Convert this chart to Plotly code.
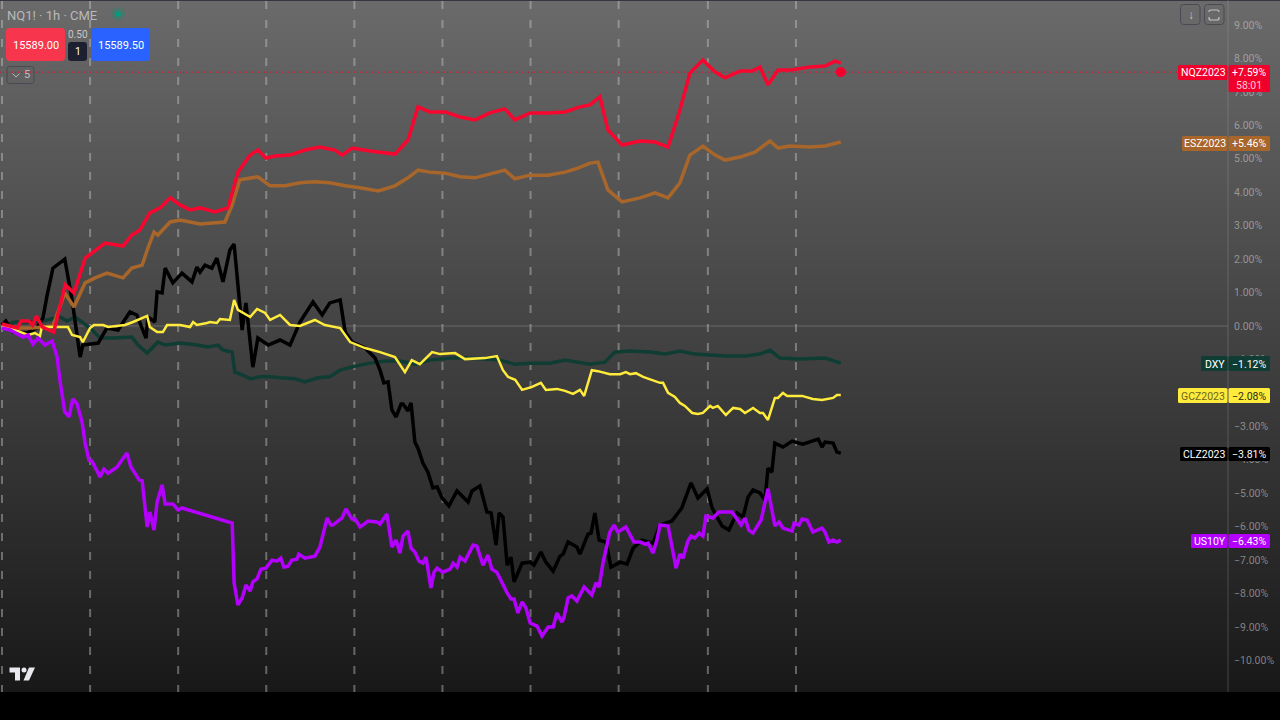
import plotly.graph_objects as go

# ---- data: hours since start of the comparison, % change ----
NQ_H = [0,4,5,7,8,9,10.5,13.5,16.5,18.8,21.7,24.3,26.9,31.6,33.9,36,38.6,41.3,43.9,46.5,49.1,51.7,55.6,59,61.6,64.8,66.8,68.9,71.3,75.2,79.1,83,86.9,88.8,91.4,96.1,102.6,106,108.6,111.7,115.7,119.6,123.5,127.4,131.3,133.9,137.9,142.6,147,150.9,153.5,156.1,158.2,161.9,166.6,170.5,173.9,177,179.6,183,186.2,188.8,192.7,195.8,197.9,200,202.6,205.7,211,214.9,217.5,219]
NQ_PCT = [.06,-.06,.15,.15,.03,.30,-.03,-.18,1.23,.99,2.03,2.27,2.48,2.39,2.72,2.87,3.38,3.53,3.83,3.62,3.47,3.53,3.41,3.53,4.60,5.11,5.26,5.02,5.08,5.11,5.26,5.35,5.26,5.11,5.32,5.23,5.14,5.56,6.55,6.40,6.40,6.25,6.16,6.37,6.49,6.16,6.37,6.37,6.40,6.55,6.61,6.85,5.86,5.41,5.53,5.50,5.35,6.46,7.56,7.95,7.59,7.42,7.62,7.62,7.74,7.21,7.65,7.65,7.74,7.77,7.92,7.86]

ES_H = [0,3.9,7.8,13.3,16.4,18.8,21.7,24.3,27.4,31.6,33.9,36.6,38.1,39.7,40.7,42,43.9,46.5,51.7,58.2,60.1,62.1,64.8,66.8,70,73.9,77.8,81.7,85.6,89.6,93.5,98.2,102.6,106,108.6,111.7,115.7,119.6,123.5,127.4,131.3,133.9,137.9,142.6,147,150.4,153.5,155.6,158.2,161.9,166.6,170.5,173.9,177,179.6,183,186.2,188.8,192.7,196.6,200.5,202.6,205.7,211,214.9,219]
ES_PCT = [.03,-.06,-.06,0,.99,.57,1.29,1.44,1.58,1.44,1.73,1.82,2.33,2.81,2.72,2.87,3.11,3.17,3.05,3.11,3.62,4.37,4.43,4.46,4.19,4.19,4.28,4.31,4.28,4.19,4.13,4.04,4.19,4.43,4.66,4.60,4.57,4.46,4.43,4.54,4.66,4.40,4.51,4.51,4.60,4.72,4.87,4.90,4.07,3.71,3.83,3.98,3.83,4.28,5.11,5.38,5.11,4.96,5.05,5.20,5.53,5.32,5.38,5.35,5.38,5.50]

CL_H = [0,1,2.9,6.5,9.1,10.7,11.7,13.3,16.4,18.3,20.4,21.1,25.1,27.4,30.3,33.4,35.2,37.6,38.1,39.9,40.5,41.8,42.6,44.6,47,49.6,50.9,51.7,53,54.8,56.1,57.7,59.5,60.6,62.7,63.7,65.5,66.8,69.5,72.6,75.2,77.8,81.2,83.6,85.6,88.3,89.6,91.4,94.8,97.4,98.7,99.7,100.8,101.8,102.9,104.2,104.7,106,106.8,107.8,108.6,109.9,111.2,112.5,113.6,114.9,116.7,118.8,121.7,122.7,124.8,126.6,127.7,129,129.8,130.8,131.9,132.9,133.7,135.8,137.9,138.9,140.7,142,143.9,145.7,146.5,147.8,150.1,150.9,153,153.8,154.8,155.9,157.7,159,161.4,163.2,164.8,167.1,170,171.8,174.9,177.5,179.9,181.7,184.1,185.4,188,189.8,191.9,193.5,194.8,196.1,197.9,199.2,200,201,201.8,203.9,206.3,209.1,213.1,214.1,214.9,217,218,219]
CL_PCT = [.03,.15,-.18,-.21,-.06,.24,.87,1.73,2.00,.78,-.93,-.57,-.51,-.06,-.12,.42,.33,-.36,.27,.12,1.02,.99,1.73,1.29,1.58,1.32,1.76,1.61,1.82,1.73,2.03,1.32,2.27,2.45,-.12,.69,-1.23,-.36,-.57,-.42,-.57,.12,.72,.33,.69,.78,-.18,-.48,-.66,-.96,-1.32,-1.70,-1.67,-2.51,-2.72,-2.33,-2.33,-2.54,-2.30,-3.47,-3.65,-4.10,-4.37,-4.84,-4.81,-5.14,-5.38,-4.93,-5.26,-4.93,-4.78,-5.56,-5.59,-6.55,-5.59,-5.71,-7.15,-6.91,-7.65,-7.09,-7.06,-7.15,-6.76,-7.06,-7.33,-6.88,-6.82,-6.46,-6.61,-6.82,-6.22,-6.19,-5.59,-6.40,-6.46,-7.21,-7.06,-7.12,-6.64,-6.40,-6.49,-5.95,-5.83,-5.44,-4.69,-5.14,-4.87,-5.44,-5.98,-6.10,-5.59,-5.71,-5.11,-4.90,-4.99,-5.20,-4.25,-4.37,-3.50,-3.62,-3.44,-3.53,-3.38,-3.62,-3.47,-3.50,-3.77,-3.80]

US10Y_H = [0,2.1,5.5,6.8,8.1,9.4,11.2,13.1,14.4,15.1,16.4,17.5,18.5,19.6,20.9,21.7,22.7,23.5,25.6,26.6,27.7,28.7,30,32.6,33.7,34.7,35.8,36.6,37.9,38.6,39.7,40.5,41.8,42.6,44.6,46,47,60.1,60.6,61.6,62.7,63.7,64.8,65.5,66.6,67.6,68.9,70.5,71.8,72.8,73.6,74.7,75.7,77,77.5,79.1,81.7,83,84.9,85.9,86.4,88.8,89.8,91.4,92.2,93.5,95.6,97.9,98.7,100.5,101.8,102.9,103.9,104.7,106,106.8,107.8,108.9,109.9,110.7,112,112.8,113.6,115.1,117,117.8,118.8,119.6,120.9,123,124,125.6,126.9,127.9,129.2,131.9,132.9,133.7,134.7,135.8,136.8,137.9,139.7,141,142.6,143.9,144.9,146.2,146.7,147.8,148.8,150.1,152,154,155.1,155.9,156.9,158.7,159.8,160.8,162.9,165,166.6,167.9,168.7,170,171,171.8,173.9,176,177,177.8,179.1,179.9,180.9,182,183,183.8,185.6,187.2,190.6,193,194,195,196.1,198.2,200,201.8,202.9,203.9,206.3,206.8,208.1,208.9,210.2,211.7,214.1,214.9,215.9,217,218,219]
US10Y_PCT = [-.06,-.12,-.33,-.27,-.54,-.36,-.57,-.45,-.93,-1.61,-2.57,-2.72,-2.18,-2.33,-2.87,-3.50,-4.01,-4.04,-4.51,-4.28,-4.40,-4.31,-4.22,-3.80,-4.22,-4.40,-4.60,-4.63,-6.01,-5.56,-6.10,-5.26,-4.75,-5.32,-5.32,-5.50,-5.44,-5.89,-7.68,-8.34,-8.13,-7.74,-7.92,-7.65,-7.56,-7.27,-7.24,-7.00,-7.03,-6.94,-7.21,-7.18,-7.00,-6.97,-6.82,-6.94,-6.88,-6.61,-5.74,-5.95,-5.95,-5.74,-5.47,-5.77,-5.77,-6.01,-5.83,-5.86,-5.92,-5.62,-6.61,-6.40,-6.79,-6.28,-6.13,-6.64,-6.76,-7.03,-7.09,-6.91,-7.83,-7.36,-7.24,-7.36,-7.27,-7.09,-7.21,-6.91,-7.03,-6.55,-6.58,-7.15,-6.85,-7.27,-7.36,-7.98,-8.16,-8.16,-8.58,-8.25,-8.43,-8.88,-8.97,-9.27,-9.00,-9.00,-8.58,-8.85,-8.73,-8.13,-8.07,-8.22,-7.80,-8.04,-7.68,-7.80,-7.09,-6.16,-5.95,-6.16,-6.01,-6.46,-6.46,-6.52,-6.49,-6.79,-6.40,-5.95,-5.98,-7.24,-6.82,-6.94,-6.43,-6.28,-6.34,-6.19,-6.28,-5.68,-5.74,-5.56,-5.56,-5.95,-5.74,-6.10,-6.19,-5.80,-4.87,-5.98,-5.86,-6.04,-6.13,-5.89,-5.95,-5.77,-5.80,-6.16,-6.04,-6.16,-6.46,-6.40,-6.46,-6.40]

GC_H = [0,3.4,6.8,8.6,9.9,10.4,13.3,17.2,18.3,20.4,21.1,23,24,26.4,27.7,32.1,34.2,37.9,38.6,40.5,42,43.1,46.5,49.1,49.9,50.9,53.5,54.3,56.1,56.9,59.5,60.6,61.6,64.8,66.6,68.7,70,72.6,75.2,77.8,81.7,84.3,88.3,90.9,94.8,98.7,102.6,105.2,107,109.1,112.3,114.4,118.3,120.9,126.1,129.2,130.8,132.1,134,135.8,138.4,140.7,142,144.9,147,149.1,150.9,152,154,155.6,158.7,161.4,162.9,164,165.5,167.4,171.8,172.6,173.9,175.7,177,178.3,180.2,181.7,183,184.9,185.6,186.9,189,190.9,192.7,194,196.1,197.9,198.7,200,201.8,202.6,203.9,205,208.9,211.7,214.1,216.2,217,218,219]
GC_PCT = [0,-.12,-.27,-.21,-.30,-.03,-.03,-.03,-.27,-.33,-.48,-.06,.03,.03,-.03,.03,.12,.30,-.03,-.18,-.18,.03,.03,-.03,.12,.03,.09,.12,.09,.21,.18,.78,.48,.27,.51,.39,.18,.33,.03,0,.18,.03,-.06,-.48,-.66,-.78,-.93,-1.38,-1.02,-1.14,-.78,-.84,-.81,-.99,-.96,-.90,-1.32,-1.52,-1.61,-1.91,-1.82,-1.70,-1.91,-1.88,-1.94,-2.03,-1.91,-2.09,-1.32,-1.35,-1.44,-1.44,-1.38,-1.44,-1.41,-1.52,-1.70,-1.70,-2.00,-2.12,-2.30,-2.39,-2.60,-2.63,-2.60,-2.39,-2.45,-2.39,-2.66,-2.45,-2.48,-2.60,-2.45,-2.60,-2.60,-2.81,-2.15,-2.15,-2.00,-2.09,-2.09,-2.18,-2.21,-2.15,-2.15,-2.06,-2.06]

DXY_H = [0,3.4,7.3,10.7,15.1,17,19.1,20.9,23,25.6,29,33.9,35.5,37.9,40.7,42.6,46.5,50.9,53.8,56.4,57.7,60.1,60.8,62.9,64.8,67.4,70,72.6,76.5,79.1,82.5,85.6,88.3,92.2,96.1,100,103.9,107.8,111.7,117,122.2,126.1,130,133.9,137.9,143.1,147,153.5,157.4,160,164,169.2,173.1,177,180.9,184.9,188.8,194,197.9,200.5,203.1,208.4,214.9,219]
DXY_PCT = [0,.12,.12,.15,.27,.15,.27,.12,-.06,-.36,-.36,-.33,-.57,-.81,-.48,-.57,-.51,-.57,-.63,-.57,-.72,-.78,-1.38,-1.47,-1.58,-1.52,-1.52,-1.55,-1.58,-1.67,-1.55,-1.52,-1.32,-1.20,-1.11,-1.05,-1.05,-1.14,-1.02,-.96,-.96,-.99,-1.02,-1.14,-1.11,-1.11,-1.02,-1.14,-1.08,-.78,-.75,-.78,-.84,-.75,-.84,-.87,-.90,-.90,-.84,-.72,-.96,-.99,-.96,-1.11]

DAY_BREAKS_H = [0,23,46,69,92,115,138,161,184.3,207.3]
Y_TICKS = [9,8,7,6,5,4,3,2,1,0,-1,-2,-3,-4,-5,-6,-7,-8,-9,-10]
LAST_PRICE_PCT = 7.59
LAST_H = 219

LINE_STYLES = [
    ("DXY", DXY_H, DXY_PCT, "#0f3d33", 3.5),
    ("CLZ2023", CL_H, CL_PCT, "#000000", 3.5),
    ("ESZ2023", ES_H, ES_PCT, "#a8662a", 3.5),
    ("GCZ2023", GC_H, GC_PCT, "#ffeb3b", 2.5),
    ("US10Y", US10Y_H, US10Y_PCT, "#b400ff", 3.5),
    ("NQZ2023", NQ_H, NQ_PCT, "#f7072f", 3.5),
]

# name, value text, box left, box top, box bottom, colour, name-text colour, value-text colour
BADGES = [
    ("NQZ2023", "+7.59%", 1178, 65, 80, "#f2002c", "#ffffff", "#ffffff"),
    ("ESZ2023", "+5.46%", 1182, 136, 151, "#a8662a", "#ffffff", "#ffffff"),
    ("DXY", "\u22121.12%", 1201, 356, 371, "#0f3d33", "#ffffff", "#ffffff"),
    ("GCZ2023", "\u22122.08%", 1178, 388, 403, "#ffeb3b", "#6b6420", "#2b2b10"),
    ("CLZ2023", "\u22123.81%", 1180, 447, 461, "#000000", "#ffffff", "#ffffff"),
    ("US10Y", "\u22126.43%", 1191, 534, 548, "#b400ff", "#ffffff", "#ffffff"),
]

W, H = 1280, 720
AXIS_X = 1228
BOTTOM = 692
PX_PER_PCT = 33.45
PX_PER_H = 3.83
ZERO_Y = 326
FONT = "Roboto"

def X(p): return p / W
def Y(p): return 1 - p / H

def round_rect(x0, y0, x1, y1, r, fill, line=None, lw=1):
    px, py = X, Y
    path = (f"M {px(x0+r)} {py(y0)} L {px(x1-r)} {py(y0)} Q {px(x1)} {py(y0)} {px(x1)} {py(y0+r)} "
            f"L {px(x1)} {py(y1-r)} Q {px(x1)} {py(y1)} {px(x1-r)} {py(y1)} "
            f"L {px(x0+r)} {py(y1)} Q {px(x0)} {py(y1)} {px(x0)} {py(y1-r)} "
            f"L {px(x0)} {py(y0+r)} Q {px(x0)} {py(y0)} {px(x0+r)} {py(y0)} Z")
    return dict(type="path", xref="paper", yref="paper", path=path, fillcolor=fill,
                line=dict(color=line or "rgba(0,0,0,0)", width=lw if line else 0), layer="above")

def rect(x0, y0, x1, y1, fill, layer="below"):
    return dict(type="rect", xref="paper", yref="paper", x0=X(x0), x1=X(x1), y0=Y(y1), y1=Y(y0),
                fillcolor=fill, line=dict(width=0), layer=layer)

def poly(points, fill):
    d = "M " + " L ".join(f"{X(a)} {Y(b)}" for a, b in points) + " Z"
    return dict(type="path", xref="paper", yref="paper", path=d, fillcolor=fill, line=dict(width=0), layer="above")

def text(x, y, s, size=11, color="#ffffff", anchor="center", weight=None):
    return dict(xref="paper", yref="paper", x=X(x), y=Y(y), text=s, showarrow=False, xanchor=anchor,
                yanchor="middle", font=dict(family=FONT, size=size, color=color, weight=weight or 400),
                borderpad=0, borderwidth=0)

shapes, annots = [], []

# background gradient
TOP_GREY, BOT_GREY = 106, 24
STEP = 4
for y in range(0, BOTTOM, STEP):
    g = round(TOP_GREY + (BOT_GREY - TOP_GREY) * y / BOTTOM)
    shapes.append(rect(0, y, W, min(y + STEP, BOTTOM), f"rgb({g},{g},{g})"))
shapes.append(rect(0, BOTTOM, W, H, "#000000"))
shapes.append(rect(0, 0, W, 1, "#34373e"))

# right axis line
shapes.append(rect(AXIS_X - 0.5, 0, AXIS_X + 0.5, BOTTOM, "rgba(170,170,170,0.3)"))

# day break dashed lines
for h in DAY_BREAKS_H:
    shapes.append(dict(type="line", xref="x", yref="paper", x0=h, x1=h, y0=Y(1), y1=Y(BOTTOM),
                       line=dict(color="rgba(205,205,205,0.42)", width=2, dash="8px,11px"), layer="below"))

# zero line and last-price line
shapes.append(dict(type="line", xref="paper", yref="y", x0=0, x1=X(AXIS_X), y0=0, y1=0,
                   line=dict(color="rgba(200,200,200,0.26)", width=1), layer="below"))
shapes.append(dict(type="line", xref="paper", yref="y", x0=0, x1=X(AXIS_X), y0=LAST_PRICE_PCT, y1=LAST_PRICE_PCT,
                   line=dict(color="#f2002c", width=1, dash="1px,2px"), layer="below"))

fig = go.Figure()
for name, hs, vals, color, width in LINE_STYLES:
    fig.add_trace(go.Scatter(x=hs, y=vals, mode="lines", name=name,
                             line=dict(color=color, width=width, shape="linear"), hoverinfo="skip"))
fig.add_trace(go.Scatter(x=[LAST_H], y=[LAST_PRICE_PCT], mode="markers", name="last",
                         marker=dict(color="#f2002c", size=10), hoverinfo="skip"))

# right-hand badges
for name, val, left, top, bot, col, ntc, vtc in BADGES:
    vbot = 92 if name == "NQZ2023" else bot
    shapes.append(round_rect(left, top, AXIS_X - 0.5, bot, 1.5, col))
    shapes.append(round_rect(AXIS_X + 0.5, top, 1270, vbot, 1.5, col))
    annots.append(text((left + AXIS_X) / 2, (top + bot) / 2 + 0.5, name, 10.5, ntc))
    annots.append(text(1249, (top + bot) / 2 + 0.5, val, 10.5, vtc))
annots.append(text(1249, 85, "58:01", 10.5, "#ffc9d2"))

# top-left order widget
annots.append(text(7, 15, "NQ1! \u00b7 1h \u00b7 CME", 13, "#b9b9b9", "left"))
shapes.append(dict(type="circle", xref="paper", yref="paper", x0=X(111), x1=X(125), y0=Y(21), y1=Y(7),
                   fillcolor="rgba(0,150,110,0.22)", line=dict(width=0), layer="above"))
shapes.append(dict(type="circle", xref="paper", yref="paper", x0=X(115), x1=X(121), y0=Y(17), y1=Y(11),
                   fillcolor="#089981", line=dict(width=0), layer="above"))
shapes.append(round_rect(6, 28, 65, 61, 4, "#f7364e"))
annots.append(text(35.5, 45, "15589.00", 11))
shapes.append(round_rect(91, 28, 150, 61, 4, "#2962ff"))
annots.append(text(120.5, 45, "15589.50", 11))
annots.append(text(77.5, 34, "0.50", 10, "#c8c8c8"))
shapes.append(round_rect(68, 42, 87, 61, 3, "#1c2030"))
annots.append(text(77.5, 51.5, "1", 10.5, "#ffffff"))
shapes.append(round_rect(7, 66.5, 34, 83.5, 2.5, "rgba(0,0,0,0)", "#4a4b52", 1))
shapes.append(dict(type="path", xref="paper", yref="paper", layer="above",
                   path=f"M {X(12.5)} {Y(73.5)} L {X(16)} {Y(77)} L {X(19.5)} {Y(73.5)}",
                   line=dict(color="#b5b5b5", width=1)))
annots.append(text(26.5, 75, "5", 11, "#bdbdbd"))

# top-right buttons
shapes.append(round_rect(1180.5, 4.5, 1200, 24.5, 3, "rgba(0,0,0,0)", "#4a4b52", 1))
shapes.append(round_rect(1204.5, 4.5, 1224, 24.5, 3, "rgba(0,0,0,0)", "#4a4b52", 1))
annots.append(text(1190.5, 14.5, "\u2193", 12, "#c4c4c4"))
shapes.append(dict(type="path", xref="paper", yref="paper", layer="above",
                   path=(f"M {X(1209)} {Y(12)} L {X(1209)} {Y(11)} Q {X(1209)} {Y(10)} {X(1211)} {Y(10)} L {X(1217)} {Y(10)} "
                         f"Q {X(1219)} {Y(10)} {X(1219)} {Y(12)} M {X(1209)} {Y(17)} L {X(1209)} {Y(18)} Q {X(1209)} {Y(20)} {X(1211)} {Y(20)} "
                         f"L {X(1217)} {Y(20)} Q {X(1219)} {Y(20)} {X(1219)} {Y(18)} L {X(1219)} {Y(17)}"),
                   line=dict(color="#c4c4c4", width=1.2)))

# logo
LOGO = "#e8e8ee"
shapes.append(poly([(9.5, 667.5), (20, 667.5), (20, 680.5), (15, 680.5), (15, 672.5), (9.5, 672.5)], LOGO))
shapes.append(poly([(29, 667.5), (35, 667.5), (29, 680.5), (23.5, 680.5)], LOGO))
shapes.append(dict(type="circle", xref="paper", yref="paper", x0=X(21.5), x1=X(26.5), y0=Y(672.5), y1=Y(667.5),
                   fillcolor=LOGO, line=dict(width=0), layer="above"))

fig.update_layout(
    width=W, height=H, margin=dict(l=0, r=0, t=0, b=0), autosize=False,
    paper_bgcolor="#000000", plot_bgcolor="rgba(0,0,0,0)", showlegend=False,
    shapes=shapes, annotations=annots, hovermode=False,
    xaxis=dict(domain=[0, AXIS_X / W], range=[-2 / PX_PER_H, (AXIS_X - 2) / PX_PER_H],
               visible=False, fixedrange=True),
    yaxis=dict(domain=[1 - BOTTOM / H, 1], side="right", anchor="x",
               range=[(ZERO_Y - BOTTOM) / PX_PER_PCT, ZERO_Y / PX_PER_PCT],
               tickmode="array", tickvals=Y_TICKS,
               ticktext=[(f"{v:.2f}%" if v >= 0 else f"\u2212{abs(v):.2f}%") for v in Y_TICKS],
               showgrid=False, zeroline=False, showline=False, ticks="", ticklabelstandoff=5,
               tickfont=dict(family=FONT, size=10.5, color="rgba(205,205,205,0.58)"), fixedrange=True),
)

fig.write_html("out.html", config=dict(displayModeBar=False),
               post_script="document.body.style.margin='0';document.body.style.background='#000';")
